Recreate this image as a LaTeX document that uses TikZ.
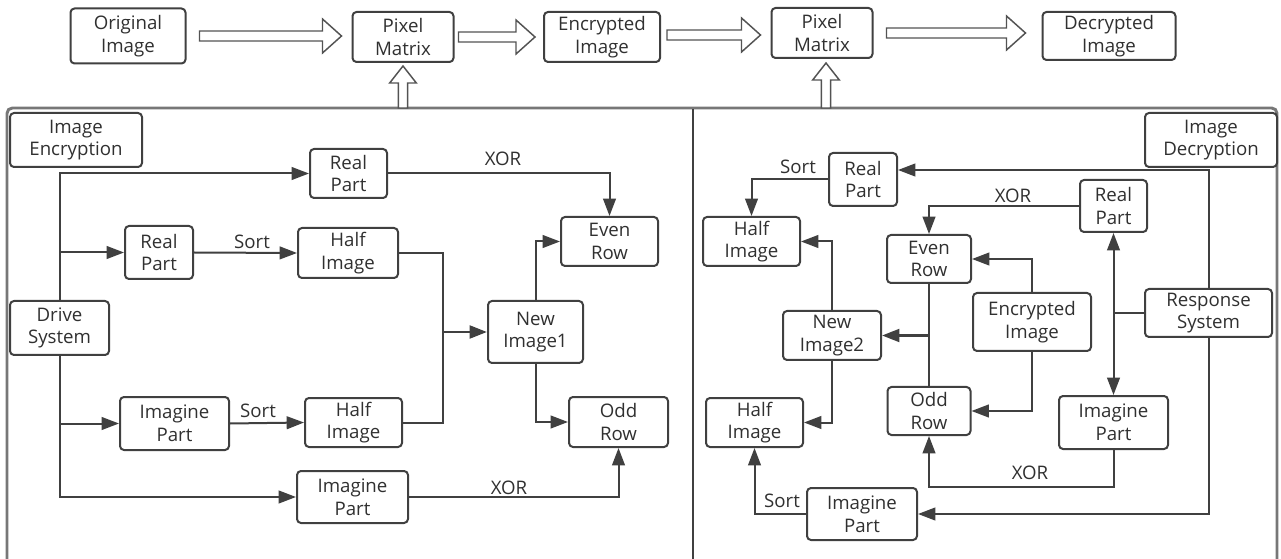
\documentclass[tikz,border=0pt]{standalone}
\usepackage{fontspec}
\setmainfont{Open Sans}
\usetikzlibrary{arrows.meta,calc}

\definecolor{linegray}{HTML}{404040}
\definecolor{framegray}{HTML}{777777}
\definecolor{textgray}{HTML}{303030}

\tikzset{
  box/.style={draw=linegray, line width=1.5pt, rounded corners=3pt, fill=white, align=center,
    text=textgray, inner sep=0pt, font=\fontsize{14}{17}\selectfont},
  sz/.style 2 args={minimum width=#1*0.75pt, minimum height=#2*0.75pt},
  conn/.style={draw=linegray, line width=1.5pt, -{Triangle[length=13pt,width=9.5pt]}},
  plain/.style={draw=linegray, line width=1.5pt},
  lbl/.style={text=textgray, inner sep=0pt, font=\fontsize{14}{17}\selectfont},
  hollow/.style={draw=framegray!70!black, line width=1.1pt, fill=white, line join=miter},
}

% hollow block arrows (start point, tip point)
\newcommand\hollowright[2]{\draw[hollow] let \p1=#1, \p2=#2 in
  (\x1,\y1+3.75pt) -- (\x2-14.25pt,\y1+3.75pt) -- (\x2-14.25pt,\y1+12.75pt) -- (\x2,\y1)
  -- (\x2-14.25pt,\y1-12.75pt) -- (\x2-14.25pt,\y1-3.75pt) -- (\x1,\y1-3.75pt) -- cycle;}
\newcommand\hollowup[2]{\draw[hollow] let \p1=#1, \p2=#2 in
  (\x1-3.4pt,\y1) -- (\x1-3.4pt,\y2-12.75pt) -- (\x1-10pt,\y2-12.75pt) -- (\x1,\y2)
  -- (\x1+10pt,\y2-12.75pt) -- (\x1+3.4pt,\y2-12.75pt) -- (\x1+3.4pt,\y1) -- cycle;}

\begin{document}
\begin{tikzpicture}[x=0.75pt, y=-0.75pt]
    \fill[white] (0,0) rectangle (1281,559);
    \useasboundingbox (0,0) rectangle (1281,559);

    % Draw the outer frame and the divider
    \draw[framegray, line width=2.2pt, rounded corners=4pt] (7,575) -- (7,108) -- (1277,108) -- (1277,575);
    \draw[linegray, line width=1pt] (693,109) -- (693,559);
    \coordinate (fr1) at (403,108);
    \coordinate (fr2) at (826,108);

    % Top row
    \node[box, sz={115}{55}] (orig) at (128,36) {Original\\Image};
    \node[box, sz={101}{50}] (pm1) at (403,37) {Pixel\\Matrix};
    \node[box, sz={116}{50}] (enc) at (602,37) {Encrypted\\Image};
    \node[box, sz={101}{50}] (pm2) at (822,33) {Pixel\\Matrix};
    \node[box, sz={133}{48}] (dec) at (1109,36) {Decrypted\\Image};

    \hollowright{($(orig.east)+(13,0)$)}{($(pm1.west)+(-10,0)$)}
    \hollowright{($(pm1.east)+(4,0)$)}{($(enc.west)+(-8,0)$)}
    \hollowright{($(enc.east)+(6,-2)$)}{($(pm2.west)+(-10,0)$)}
    \hollowright{($(pm2.east)+(13,0)$)}{($(dec.west)+(-16,0)$)}
    \hollowup{(fr1)}{($(pm1.south)+(0,3)$)}
    \hollowup{(fr2)}{($(pm2.south)+(4,4)$)}

    % Encryption side
    \node[box, sz={132}{54}] (encl) at (76,140) {Image\\Encryption};
    \node[box, sz={99}{54}] (drive) at (59.5,328) {Drive\\System};
    \node[box, sz={77}{49}] (rpA) at (348.5,173.5) {Real\\Part};
    \node[box, sz={68}{53}] (rpB) at (159,252.5) {Real\\Part};
    \node[box, sz={100}{50}] (hiA) at (348,253) {Half\\Image};
    \node[box, sz={95}{62}] (niA) at (535.5,332) {New\\Image1};
    \node[box, sz={97}{49}] (evA) at (609.5,241.5) {Even\\Row};
    \node[box, sz={99}{50}] (odA) at (618.5,422) {Odd\\Row};
    \node[box, sz={109}{53}] (ipA) at (174.5,423.5) {Imagine\\Part};
    \node[box, sz={97}{49}] (hiB) at (353.5,422.5) {Half\\Image};
    \node[box, sz={111}{52}] (ipB) at (352.5,497) {Imagine\\Part};

    \draw[conn] (drive.north) |- (rpA.west);
    \draw[conn] (drive.north |- rpB.west) -- (rpB.west);
    \draw[conn] (rpB.east) -- (hiA.west);
    \node[lbl] (sortA) at (252,242) {Sort};
    \coordinate (jA) at (443,332);
    \draw[plain] (hiA.east) -| (jA);
    \draw[plain] (hiB.east) -| (jA);
    \draw[conn, line width=2.2pt] (jA) -- (niA.west);
    \draw[conn] (niA.north) |- (evA.west);
    \draw[conn] (niA.south) |- (odA.west);
    \draw[conn] (rpA.east) -| (evA.north);
    \node[lbl] (xorA) at (503,159) {XOR};
    \draw[conn] (drive.south) |- (ipA.west);
    \draw[conn] (drive.south) |- (ipB.west);
    \draw[conn] (ipA.east) -- (hiB.west);
    \node[lbl] (sortB) at (258,411) {Sort};
    \draw[conn] (ipB.east) -| (odA.south);
    \node[lbl] (xorB) at (509,488) {XOR};

    % Decryption side
    \node[box, sz={132}{54}] (decl) at (1211,140) {Image\\Decryption};
    \node[box, sz={127}{48}] (resp) at (1208.5,313) {Response\\System};
    \node[box, sz={68}{53}] (rpC) at (863,179.5) {Real\\Part};
    \node[box, sz={97}{49}] (hiC) at (751.5,241.5) {Half\\Image};
    \node[box, sz={98}{49}] (niB) at (832,335.5) {New\\Image2};
    \node[box, sz={84}{48}] (evB) at (929,259) {Even\\Row};
    \node[box, sz={118}{58}] (encB) at (1032,322) {Encrypted\\Image};
    \node[box, sz={67}{52}] (rpD) at (1113.5,206) {Real\\Part};
    \node[box, sz={83}{48}] (odB) at (929,411) {Odd\\Row};
    \node[box, sz={97}{49}] (hiD) at (754.5,422.5) {Half\\Image};
    \node[box, sz={109}{53}] (ipC) at (1113.5,422.5) {Imagine\\Part};
    \node[box, sz={110}{52}] (ipD) at (862,514) {Imagine\\Part};

    \draw[conn] (resp.north) |- ($(rpC.east)+(0,-9.5)$);
    \draw[conn] (rpC.west) -| (hiC.north);
    \node[lbl] (sortC) at (798,167) {Sort};
    \draw[conn] (niB.north) |- (hiC.east);
    \draw[conn] (niB.south) |- (hiD.east);
    \draw[plain] (evB.south) -- (odB.north);
    \coordinate (jB) at (929,335.5);
    \draw[conn, line width=2.2pt] (jB) -- (niB.east);
    \draw[conn] (rpD.west) -| (evB.north);
    \node[lbl] (xorC) at (1013,196) {XOR};
    \draw[conn] (encB.north) |- (evB.east);
    \draw[conn] (encB.south) |- (odB.east);
    \coordinate (jC) at (resp.west -| rpD.south);
    \draw[plain] (resp.west) -- (jC);
    \draw[conn] (jC) -- (rpD.south);
    \draw[conn] (jC) -- (ipC.north);
    \coordinate (jD) at (1113.5,487);
    \draw[conn] (ipC.south) -- (jD) -| (odB.south);
    \node[lbl] (xorD) at (1030,473) {XOR};
    \draw[conn] (resp.south) |- (ipD.east);
    \draw[conn] (ipD.west) -| (hiD.south);
    \node[lbl] (sortD) at (782,501) {Sort};
\end{tikzpicture}
\end{document}
